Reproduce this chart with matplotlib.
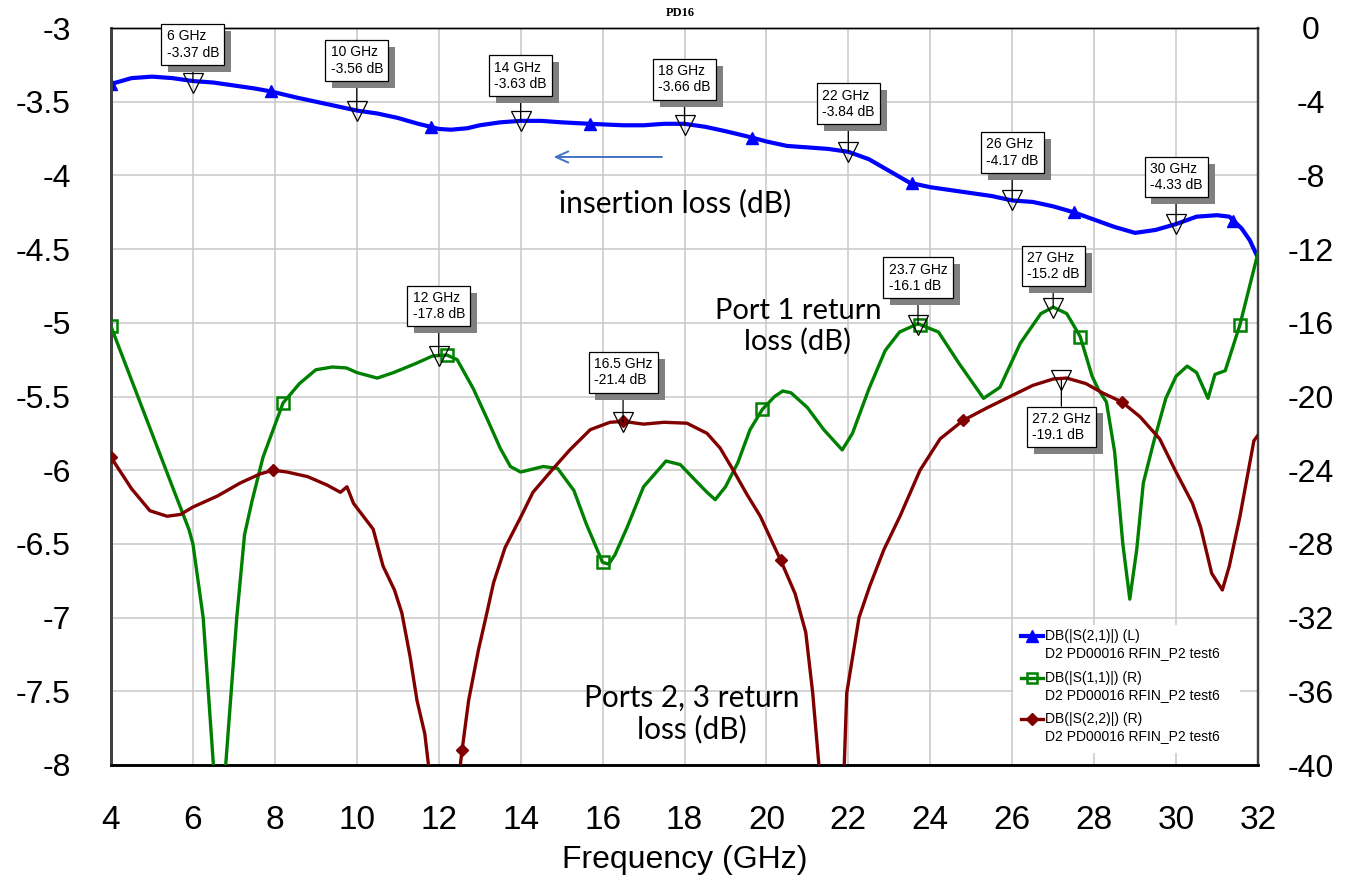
import numpy as np
import matplotlib
matplotlib.use("Agg")
import matplotlib.pyplot as plt
from matplotlib.lines import Line2D
from matplotlib.patches import Rectangle
import matplotlib.patheffects as pe

plt.rcParams['font.family'] = ['Liberation Sans', 'DejaVu Sans']
plt.rcParams['axes.unicode_minus'] = False

# ---------------- data ----------------
s21_freq = [4.0, 4.5, 5.0, 5.5, 6.0, 6.5, 7.0, 7.5, 7.9, 8.5, 9.0, 9.5, 10.0, 10.5, 11.0,
            11.5, 11.8, 12.0, 12.3, 12.7, 13.0, 13.5, 14.0, 14.5, 15.0, 15.7, 16.5, 17.0,
            17.5, 18.0, 18.5, 19.0, 19.6, 20.0, 20.5, 21.0, 21.5, 22.0, 22.5, 23.0, 23.5,
            24.0, 24.5, 25.0, 25.5, 26.0, 26.5, 27.0, 27.5, 28.0, 28.5, 29.0, 29.5, 30.0,
            30.5, 31.0, 31.3, 31.6, 31.8, 32.0]
s21_db = [-3.38, -3.34, -3.33, -3.34, -3.36, -3.37, -3.39, -3.41, -3.43, -3.47, -3.50,
          -3.53, -3.56, -3.58, -3.61, -3.65, -3.67, -3.685, -3.69, -3.68, -3.66, -3.64,
          -3.63, -3.63, -3.64, -3.65, -3.66, -3.66, -3.65, -3.65, -3.67, -3.70, -3.74,
          -3.77, -3.80, -3.81, -3.82, -3.84, -3.89, -3.97, -4.05, -4.08, -4.10, -4.12,
          -4.14, -4.17, -4.18, -4.21, -4.25, -4.30, -4.35, -4.39, -4.37, -4.33, -4.28,
          -4.27, -4.28, -4.36, -4.44, -4.56]

s11_freq = [4.0, 4.5, 5.0, 5.5, 5.9, 6.0, 6.25, 6.5, 6.65, 6.8, 7.07, 7.26, 7.44, 7.71,
            8.2, 8.6, 9.0, 9.4, 9.75, 10.0, 10.5, 10.9, 11.45, 11.85, 12.2, 12.45, 12.85,
            13.2, 13.5, 13.75, 14.0, 14.55, 14.9, 15.3, 15.6, 16.0, 16.15, 16.3, 16.6,
            17.0, 17.55, 17.9, 18.2, 18.55, 18.75, 19.0, 19.3, 19.6, 19.9, 20.2, 20.4,
            20.6, 21.0, 21.4, 21.85, 22.1, 22.5, 22.9, 23.25, 23.7, 24.2, 24.7, 25.3,
            25.7, 26.2, 26.7, 27.0, 27.33, 27.66, 27.95, 28.1, 28.3, 28.5, 28.7, 28.87,
            29.04, 29.2, 29.45, 29.75, 30.0, 30.27, 30.5, 30.78, 30.95, 31.2, 31.56, 32.0]
s11_db = [-16.2, -19.1, -22.0, -24.9, -27.2, -28.0, -32.0, -40.0, -48.0, -40.0, -32.0,
          -27.5, -25.7, -23.3, -20.35, -19.3, -18.55, -18.4, -18.45, -18.7, -19.0, -18.7,
          -18.2, -17.8, -17.75, -18.0, -19.6, -21.3, -22.8, -23.8, -24.1, -23.8, -23.9,
          -25.1, -26.9, -29.0, -29.1, -28.6, -27.1, -24.9, -23.5, -23.7, -24.4, -25.2,
          -25.6, -24.9, -23.6, -21.8, -20.7, -20.0, -19.7, -19.8, -20.6, -21.8, -22.9,
          -22.0, -19.6, -17.5, -16.5, -16.05, -16.5, -18.2, -20.1, -19.5, -17.1, -15.5,
          -15.15, -15.5, -16.75, -18.9, -19.6, -20.3, -23.0, -28.0, -31.0, -28.3, -24.7,
          -22.5, -20.1, -18.9, -18.35, -18.7, -20.1, -18.8, -18.6, -16.1, -12.2]

s22_freq = [4.0, 4.5, 4.95, 5.37, 5.7, 6.0, 6.6, 7.15, 7.64, 7.96, 8.3, 8.8, 9.27, 9.6,
            9.76, 9.92, 10.16, 10.4, 10.64, 10.92, 11.1, 11.3, 11.47, 11.66, 11.75, 12.1,
            12.5, 12.57, 12.73, 12.97, 13.15, 13.34, 13.62, 13.99, 14.3, 14.8, 15.2, 15.7,
            16.18, 16.5, 17.0, 17.5, 18.06, 18.55, 18.87, 19.19, 19.52, 19.85, 20.35, 20.7,
            20.96, 21.13, 21.3, 21.6, 21.9, 21.96, 22.26, 22.52, 22.87, 23.26, 23.75, 24.24,
            24.8, 25.4, 25.95, 26.5, 27.0, 27.33, 27.8, 28.2, 28.68, 29.12, 29.6, 30.0,
            30.4, 30.6, 30.87, 31.13, 31.3, 31.56, 31.9, 32.0]
s22_db = [-23.3, -25.0, -26.2, -26.5, -26.4, -26.0, -25.4, -24.7, -24.2, -24.0, -24.1,
          -24.35, -24.8, -25.2, -24.9, -25.8, -26.5, -27.2, -29.2, -30.5, -31.75, -34.1,
          -36.5, -38.3, -40.0, -46.0, -40.5, -39.2, -36.5, -33.75, -32.0, -30.1, -28.2,
          -26.6, -25.2, -23.9, -22.9, -21.8, -21.4, -21.35, -21.5, -21.4, -21.45, -22.0,
          -22.8, -24.0, -25.3, -26.5, -28.9, -30.7, -32.8, -36.1, -40.5, -46.0, -40.0,
          -36.1, -32.0, -30.3, -28.3, -26.5, -24.0, -22.3, -21.3, -20.6, -20.0, -19.4,
          -19.05, -19.0, -19.3, -19.8, -20.3, -21.1, -22.3, -24.1, -25.8, -27.1, -29.6,
          -30.5, -29.2, -26.5, -22.4, -22.1]

# trace symbol positions (GHz)
s21_sym_freq = [4.0, 7.9, 11.8, 15.7, 19.65, 23.55, 27.5, 31.4]
s11_sym_freq = [4.0, 8.2, 12.2, 16.0, 19.9, 23.75, 27.66, 31.56]
s22_sym_freq = [4.0, 7.95, 12.57, 16.5, 20.35, 24.8, 28.68]

# marker read-outs
s21_mk_freq = [6, 10, 14, 18, 22, 26, 30]
s21_mk_db = [-3.37, -3.56, -3.63, -3.66, -3.84, -4.17, -4.33]
rl_mk_trace = ['S11', 'S22', 'S11', 'S11', 'S22']
rl_mk_freq = [12, 16.5, 23.7, 27, 27.2]
rl_mk_db = [-17.8, -21.4, -16.1, -15.2, -19.1]

x_ticks = [4, 6, 8, 10, 12, 14, 16, 18, 20, 22, 24, 26, 28, 30, 32]
left_ticks = [-8, -7.5, -7, -6.5, -6, -5.5, -5, -4.5, -4, -3.5, -3]
left_labels = ['-8', '-7.5', '-7', '-6.5', '-6', '-5.5', '-5', '-4.5', '-4', '-3.5', '-3']
right_ticks = [-40, -36, -32, -28, -24, -20, -16, -12, -8, -4, 0]
right_labels = ['-40', '-36', '-32', '-28', '-24', '-20', '-16', '-12', '-8', '-4', '0']

legend_titles = ['DB(|S(2,1)|) (L)', 'DB(|S(1,1)|) (R)', 'DB(|S(2,2)|) (R)']
legend_sub = 'D2 PD00016 RFIN_P2 test6'

# ---------------- styling ----------------
BLUE = '#0000FF'
GREEN = '#008000'
RED = '#800000'
GRID = '#c8c8c8'

fig = plt.figure(figsize=(13.67, 8.9), dpi=100)
ax1 = fig.add_axes([111 / 1367, 1 - 765 / 890, 1147 / 1367, 737 / 890])
ax2 = ax1.twinx()

ax1.set_xlim(4, 32)
ax1.set_ylim(-8, -3)
ax2.set_ylim(-40, 0)

ax1.set_xticks(x_ticks)
ax1.set_xticklabels([str(t) for t in x_ticks])
ax1.set_yticks(left_ticks)
ax1.set_yticklabels(left_labels)
ax2.set_yticks(right_ticks)
ax2.set_yticklabels(right_labels)

ax1.tick_params(axis='x', length=0, pad=29, labelsize=24)
ax1.tick_params(axis='y', length=0, pad=29, labelsize=23)
ax2.tick_params(axis='y', length=0, pad=38, labelsize=23)
for lab in ax2.get_yticklabels():
    lab.set_horizontalalignment('center')

ax1.grid(True, color=GRID, lw=1.1)
ax1.set_axisbelow(True)

for ax in (ax1, ax2):
    ax.spines['top'].set_linewidth(1.0)
    ax.spines['top'].set_color('black')
    ax.spines['bottom'].set_linewidth(1.8)
    ax.spines['bottom'].set_color('black')
    ax.spines['left'].set_linewidth(2.0)
    ax.spines['left'].set_color('#404040')
    ax.spines['right'].set_linewidth(1.6)
    ax.spines['right'].set_color('#404040')

ax1.set_xlabel('Frequency (GHz)', fontsize=23, labelpad=6)

# traces
ax1.plot(s21_freq, s21_db, color=BLUE, lw=3.0, solid_joinstyle='round', zorder=3)
ax1.plot(s21_sym_freq, np.interp(s21_sym_freq, s21_freq, s21_db), ls='none',
         marker='^', ms=9, color=BLUE, zorder=4)
ax2.plot(s11_freq, s11_db, color=GREEN, lw=2.4, zorder=3)
ax2.plot(s11_sym_freq, np.interp(s11_sym_freq, s11_freq, s11_db), ls='none',
         marker='s', ms=8, mfc='none', mec=GREEN, mew=1.8, zorder=4)
ax2.plot(s22_freq, s22_db, color=RED, lw=2.4, zorder=3)
ax2.plot(s22_sym_freq, np.interp(s22_sym_freq, s22_freq, s22_db), ls='none',
         marker='D', ms=6, color=RED, zorder=4)

# marker read-out boxes
def readout(ax_trans, f, v, dy):
    txt = f"{f:g} GHz\n{v:g} dB"
    ann = ax2.annotate(txt, xy=(f, v), xycoords=ax_trans,
                       xytext=(0, dy), textcoords='offset pixels',
                       ha='center', va='center', ma='left', fontsize=10,
                       bbox=dict(boxstyle='square,pad=0.38', fc='white', ec='black', lw=0.9),
                       arrowprops=dict(arrowstyle='-', color='black', lw=0.9,
                                       shrinkA=0, shrinkB=0),
                       zorder=10)
    ann.get_bbox_patch().set_path_effects(
        [pe.withSimplePatchShadow(offset=(5, -5), shadow_rgbFace='#808080', alpha=1.0)])
    ax2.plot([f], [v], transform=ax_trans, marker='v', ms=15, mfc='none', mec='black',
             mew=0.9, ls='none', zorder=11)

s21_dy = [38, 50, 45, 46, 48, 48, 47]
for f, v, dy in zip(s21_mk_freq, s21_mk_db, s21_dy):
    readout(ax1.transData, f, v, dy)
rl_dy = [50, 50, 47, 42, -47]
for f, v, dy in zip(rl_mk_freq, rl_mk_db, rl_dy):
    readout(ax2.transData, f, v, dy)

# descriptive texts
tfont = dict(family=['Lato', 'DejaVu Sans'], color='black', zorder=12)
ax1.text(17.77, -4.19, 'insertion loss (dB)', fontsize=21.5, ha='center', va='center', **tfont)
ax1.annotate('', xy=(14.8, -3.875), xytext=(17.45, -3.875),
             arrowprops=dict(arrowstyle='->,head_length=0.9,head_width=0.4',
                             color='#4472C4', lw=1.4, shrinkA=0, shrinkB=0))
ax2.text(20.77, -16.2, 'Port 1 return\nloss (dB)', fontsize=21, ha='center', va='center',
         linespacing=1.2, **tfont)
ax2.text(18.18, -37.2, 'Ports 2, 3 return\nloss (dB)', fontsize=21.5, ha='center', va='center',
         linespacing=1.15, **tfont)

# legend (drawn as a white panel with entries)
def axx(px):
    return (px - 111) / 1147

def axy(py):
    return (765 - py) / 737

ax2.add_patch(Rectangle((axx(1013), axy(753)), axx(1240) - axx(1013), axy(625) - axy(753),
                        transform=ax2.transAxes, fc='white', ec='none', zorder=13))
leg_styles = [dict(color=BLUE, marker='^', ms=8, lw=3.0),
              dict(color=GREEN, marker='s', ms=7, mfc='none', mew=1.8, lw=2.4),
              dict(color=RED, marker='D', ms=6, lw=2.4)]
leg_rows = [636, 678, 719]
for title, st, py in zip(legend_titles, leg_styles, leg_rows):
    ln = {k: v for k, v in st.items() if k not in ('marker', 'ms', 'mfc', 'mew')}
    ax2.add_line(Line2D([axx(1021), axx(1043)], [axy(py), axy(py)], transform=ax2.transAxes,
                        zorder=14, **ln))
    mk = {k: v for k, v in st.items() if k in ('marker', 'ms', 'mfc', 'mew')}
    ax2.plot([axx(1032)], [axy(py)], transform=ax2.transAxes, ls='none', color=st['color'],
             mec=st['color'], zorder=15, **mk)
    ax2.text(axx(1045), axy(py), title, transform=ax2.transAxes, fontsize=10,
             ha='left', va='center', zorder=15)
    ax2.text(axx(1045), axy(py + 17), legend_sub, transform=ax2.transAxes, fontsize=10,
             ha='left', va='center', zorder=15)

fig.text(680 / 1367, 1 - 13 / 890, 'PD16', ha='center', va='center', fontsize=9,
         fontweight='bold', family=['Liberation Serif', 'DejaVu Serif'])

fig.savefig('out.png', dpi=100)
